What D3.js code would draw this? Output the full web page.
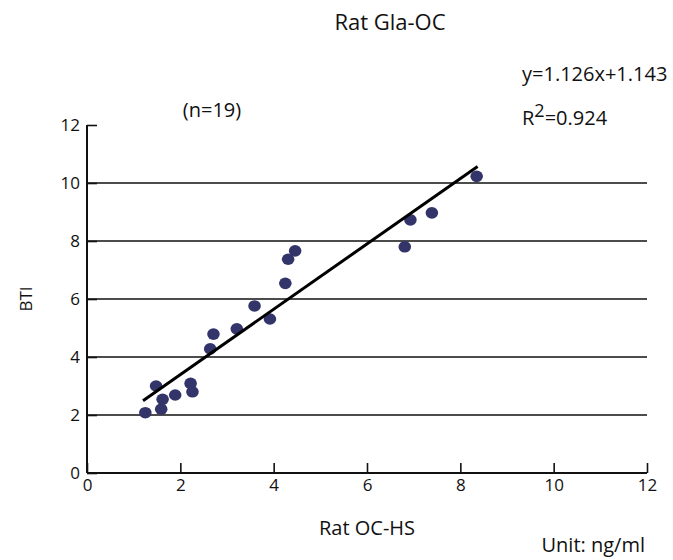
<!DOCTYPE html>
<html>
<head>
<meta charset="utf-8">
<script src="https://cdn.jsdelivr.net/npm/d3@7"></script>
<style>
  body { margin: 0; background: #fff; }
  svg text { font-family: "Open Sans", "Noto Sans", sans-serif; fill: #111; }
</style>
</head>
<body>
<svg id="chart" width="673" height="560"></svg>
<script>
// ---- data ----
const xValues = [1.25, 1.48, 1.62, 1.59, 1.89, 2.22, 2.26, 2.64, 2.71, 3.21, 3.59, 3.92, 4.25, 4.31, 4.46, 6.81, 6.93, 7.39, 8.35];
const yValues = [2.08, 3.00, 2.54, 2.20, 2.69, 3.09, 2.80, 4.28, 4.79, 4.97, 5.76, 5.31, 6.54, 7.37, 7.66, 7.80, 8.73, 8.97, 10.23];
const xTicks = [0, 2, 4, 6, 8, 10, 12];
const yTicks = [0, 2, 4, 6, 8, 10, 12];
const gridValues = [2, 4, 6, 8, 10];
const fitSlope = 1.126;
const fitIntercept = 1.143;
const fitRange = [1.2, 8.37];
const titleText = "Rat Gla-OC";
const xLabel = "Rat OC-HS";
const yLabel = "BTI";
const nText = "(n=19)";
const eqText = "y=1.126x+1.143";
const r2Value = "0.924";
const unitText = "Unit: ng/ml";

const svg = d3.select("#chart");
const x = d3.scaleLinear().domain([0, 12]).range([87, 647]);
const y = d3.scaleLinear().domain([0, 12]).range([473, 125]);
const fsTick = 17;
const fsText = 20;
const fsTitle = 22;

// gridlines
svg.append("g").selectAll("line").data(gridValues).join("line")
  .attr("x1", x(0)).attr("x2", x(12))
  .attr("y1", d => y(d)).attr("y2", d => y(d))
  .attr("stroke", "#111").attr("stroke-width", 1.6);

// y axis
const yAxis = svg.append("g").attr("transform", `translate(${x(0)},0)`)
  .call(d3.axisLeft(y).tickValues(yTicks).tickFormat(d3.format("d")).tickSize(-10).tickPadding(7));
yAxis.select(".domain").attr("stroke", "#111").attr("stroke-width", 2).attr("d", `M0,${y(0)}V${y(12)}`);
yAxis.selectAll(".tick line").attr("stroke", "#111").attr("stroke-width", 1.6);
yAxis.selectAll(".tick text").attr("font-size", fsTick).attr("font-family", "Open Sans").attr("fill", "#111");

// x axis
const xAxis = svg.append("g").attr("transform", `translate(0,${y(0)})`)
  .call(d3.axisBottom(x).tickValues(xTicks).tickFormat(d3.format("d")).tickSize(-10).tickPadding(6));
xAxis.select(".domain").attr("stroke", "#111").attr("stroke-width", 2).attr("d", `M${x(0)},0H${x(12)}`);
xAxis.selectAll(".tick line").attr("stroke", "#111").attr("stroke-width", 1.6);
xAxis.selectAll(".tick text").attr("font-size", fsTick).attr("font-family", "Open Sans").attr("fill", "#111");

// points
const pts = xValues.map((v, i) => ({ x: v, y: yValues[i] }));
svg.append("g").selectAll("ellipse").data(pts).join("ellipse")
  .attr("cx", d => x(d.x)).attr("cy", d => y(d.y))
  .attr("rx", 6.3).attr("ry", 5.8)
  .attr("fill", "#33356a");

// regression line
svg.append("line")
  .attr("x1", x(fitRange[0])).attr("y1", y(fitSlope * fitRange[0] + fitIntercept))
  .attr("x2", x(fitRange[1])).attr("y2", y(fitSlope * fitRange[1] + fitIntercept))
  .attr("stroke", "#000").attr("stroke-width", 3);

// texts
svg.append("text").attr("x", 390).attr("y", 30).attr("text-anchor", "middle")
  .attr("font-size", fsTitle).text(titleText);
svg.append("text").attr("x", 212).attr("y", 117).attr("text-anchor", "middle")
  .attr("font-size", fsText).text(nText);
svg.append("text").attr("x", 522).attr("y", 81).attr("font-size", fsText).text(eqText);
const r2 = svg.append("text").attr("x", 522).attr("y", 125).attr("font-size", fsText);
r2.append("tspan").text("R");
r2.append("tspan").attr("dy", -8).attr("font-size", fsText * 0.9).text("2");
r2.append("tspan").attr("dy", 8).text("=" + r2Value);
svg.append("text").attr("x", x(6)).attr("y", 535).attr("text-anchor", "middle")
  .attr("font-size", fsText).text(xLabel);
svg.append("text").attr("x", 645).attr("y", 552).attr("text-anchor", "end")
  .attr("font-size", fsText).text(unitText);
svg.append("text").attr("transform", `translate(32,${y(6)}) rotate(-90)`)
  .attr("text-anchor", "middle").attr("font-size", fsTick).text(yLabel);
</script>
</body>
</html>
